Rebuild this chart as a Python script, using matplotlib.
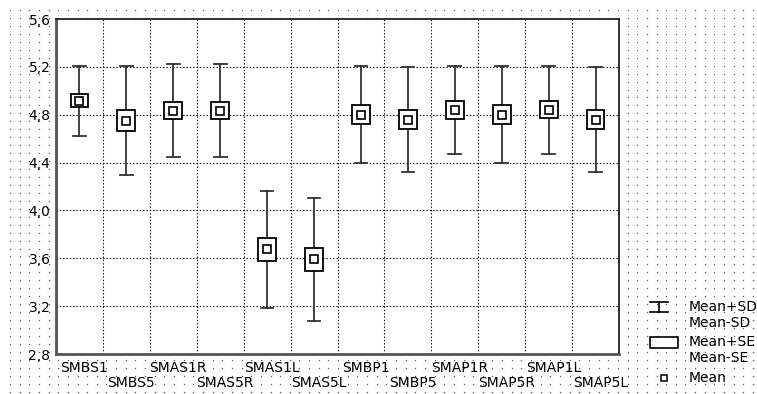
import numpy as np
import matplotlib
matplotlib.use("Agg")
import matplotlib.pyplot as plt
from matplotlib.patches import Rectangle
import matplotlib.transforms as mtransforms

categories = ["SMBS1", "SMBS5", "SMAS1R", "SMAS5R", "SMAS1L", "SMAS5L",
              "SMBP1", "SMBP5", "SMAP1R", "SMAP5R", "SMAP1L", "SMAP5L"]
means = [4.915, 4.75, 4.835, 4.835, 3.675, 3.59, 4.80, 4.76, 4.84, 4.80, 4.84, 4.76]
sds = [0.29, 0.455, 0.39, 0.39, 0.487, 0.51, 0.405, 0.435, 0.37, 0.405, 0.37, 0.435]
ses = [0.054, 0.0875, 0.071, 0.071, 0.094, 0.097, 0.078, 0.079, 0.072, 0.078, 0.071, 0.079]
yticks = [2.8, 3.2, 3.6, 4.0, 4.4, 4.8, 5.2, 5.6]
ytick_labels = ["2,8", "3,2", "3,6", "4,0", "4,4", "4,8", "5,2", "5,6"]

W, H = 757, 394
fig = plt.figure(figsize=(W / 100, H / 100), dpi=100)
fig.patch.set_facecolor("white")

# dotted background pattern
bg = fig.add_axes([0, 0, 1, 1], zorder=-5)
bg.set_xlim(0, W)
bg.set_ylim(H, 0)
bg.axis("off")
xs = np.arange(10, W, 9.65)
ys = np.arange(10, H, 7.95)
gx, gy = np.meshgrid(xs, ys)
bg.plot(gx.ravel(), gy.ravel(), linestyle="none", marker="s", markersize=0.9,
        markeredgewidth=0, color="#555555")

l, r, t, b = 56, 619, 19, 354
ax = fig.add_axes([l / W, 1 - b / H, (r - l) / W, (b - t) / H], zorder=1)
ax.set_facecolor("white")
n = len(categories)
x = np.arange(n)
ax.set_xlim(-0.5, n - 0.5)
ax.set_ylim(2.8, 5.6)

# grid
for yv in yticks[1:-1]:
    ax.axhline(yv, color="black", lw=0.8, ls=(0, (1.2, 1.8)), zorder=1)
for xv in np.arange(0.5, n - 0.5, 1.0):
    ax.axvline(xv, color="black", lw=0.8, ls=(0, (1.2, 1.8)), zorder=1)

box_hw = 0.19
cap_hw = 0.135
for i in range(n):
    m, sd, se = means[i], sds[i], ses[i]
    ax.plot([x[i], x[i]], [m - sd, m + sd], color="#333333", lw=1.3, zorder=3)
    ax.plot([x[i] - cap_hw, x[i] + cap_hw], [m + sd, m + sd], color="#333333", lw=1.3, zorder=3)
    ax.plot([x[i] - cap_hw, x[i] + cap_hw], [m - sd, m - sd], color="#333333", lw=1.3, zorder=3)
    ax.add_patch(Rectangle((x[i] - box_hw, m - se), 2 * box_hw, 2 * se,
                           facecolor="white", edgecolor="black", lw=1.3, zorder=4))
ax.plot(x, means, linestyle="none", marker="s", markersize=5.2,
        markerfacecolor="white", markeredgecolor="black", markeredgewidth=1.2, zorder=5)

ax.set_yticks(yticks)
ax.set_yticklabels(ytick_labels, fontsize=10)
ax.set_xticks(x[::2])
ax.set_xticklabels(categories[::2], fontsize=10)
ax.set_xticks(x[1::2], minor=True)
ax.set_xticklabels(categories[1::2], minor=True, fontsize=10)
ax.tick_params(axis="both", which="both", length=0, colors="black")
ax.tick_params(axis="y", pad=4)
ax.tick_params(axis="x", which="major", pad=5)
ax.tick_params(axis="x", which="minor", pad=16)
off = mtransforms.ScaledTranslation(5 / 100, 0, fig.dpi_scale_trans)
for lab in ax.get_xticklabels(which="both"):
    lab.set_transform(lab.get_transform() + off)

for side in ["top", "right"]:
    ax.spines[side].set_color("#222222")
    ax.spines[side].set_linewidth(1.3)
for side in ["left", "bottom"]:
    ax.spines[side].set_color("#555555")
    ax.spines[side].set_linewidth(2.0)

# legend (drawn in figure pixel coords)
lg = fig.add_axes([0, 0, 1, 1], zorder=2)
lg.set_xlim(0, W)
lg.set_ylim(H, 0)
lg.axis("off")
lg.plot([650, 668], [302, 302], color="black", lw=1.2)
lg.plot([650, 668], [312, 312], color="black", lw=1.2)
lg.plot([659, 659], [302, 312], color="black", lw=1.2)
lg.add_patch(Rectangle((650, 337), 28, 11, facecolor="white", edgecolor="black", lw=1.2))
lg.plot([664], [378], linestyle="none", marker="s", markersize=5,
        markerfacecolor="white", markeredgecolor="black", markeredgewidth=1.1)
for txt, yy in [("Mean+SD", 307), ("Mean-SD", 323), ("Mean+SE", 342),
                ("Mean-SE", 358), ("Mean", 378)]:
    lg.text(689, yy, txt, fontsize=10, va="center", ha="left")

fig.savefig("out.png", dpi=100)
